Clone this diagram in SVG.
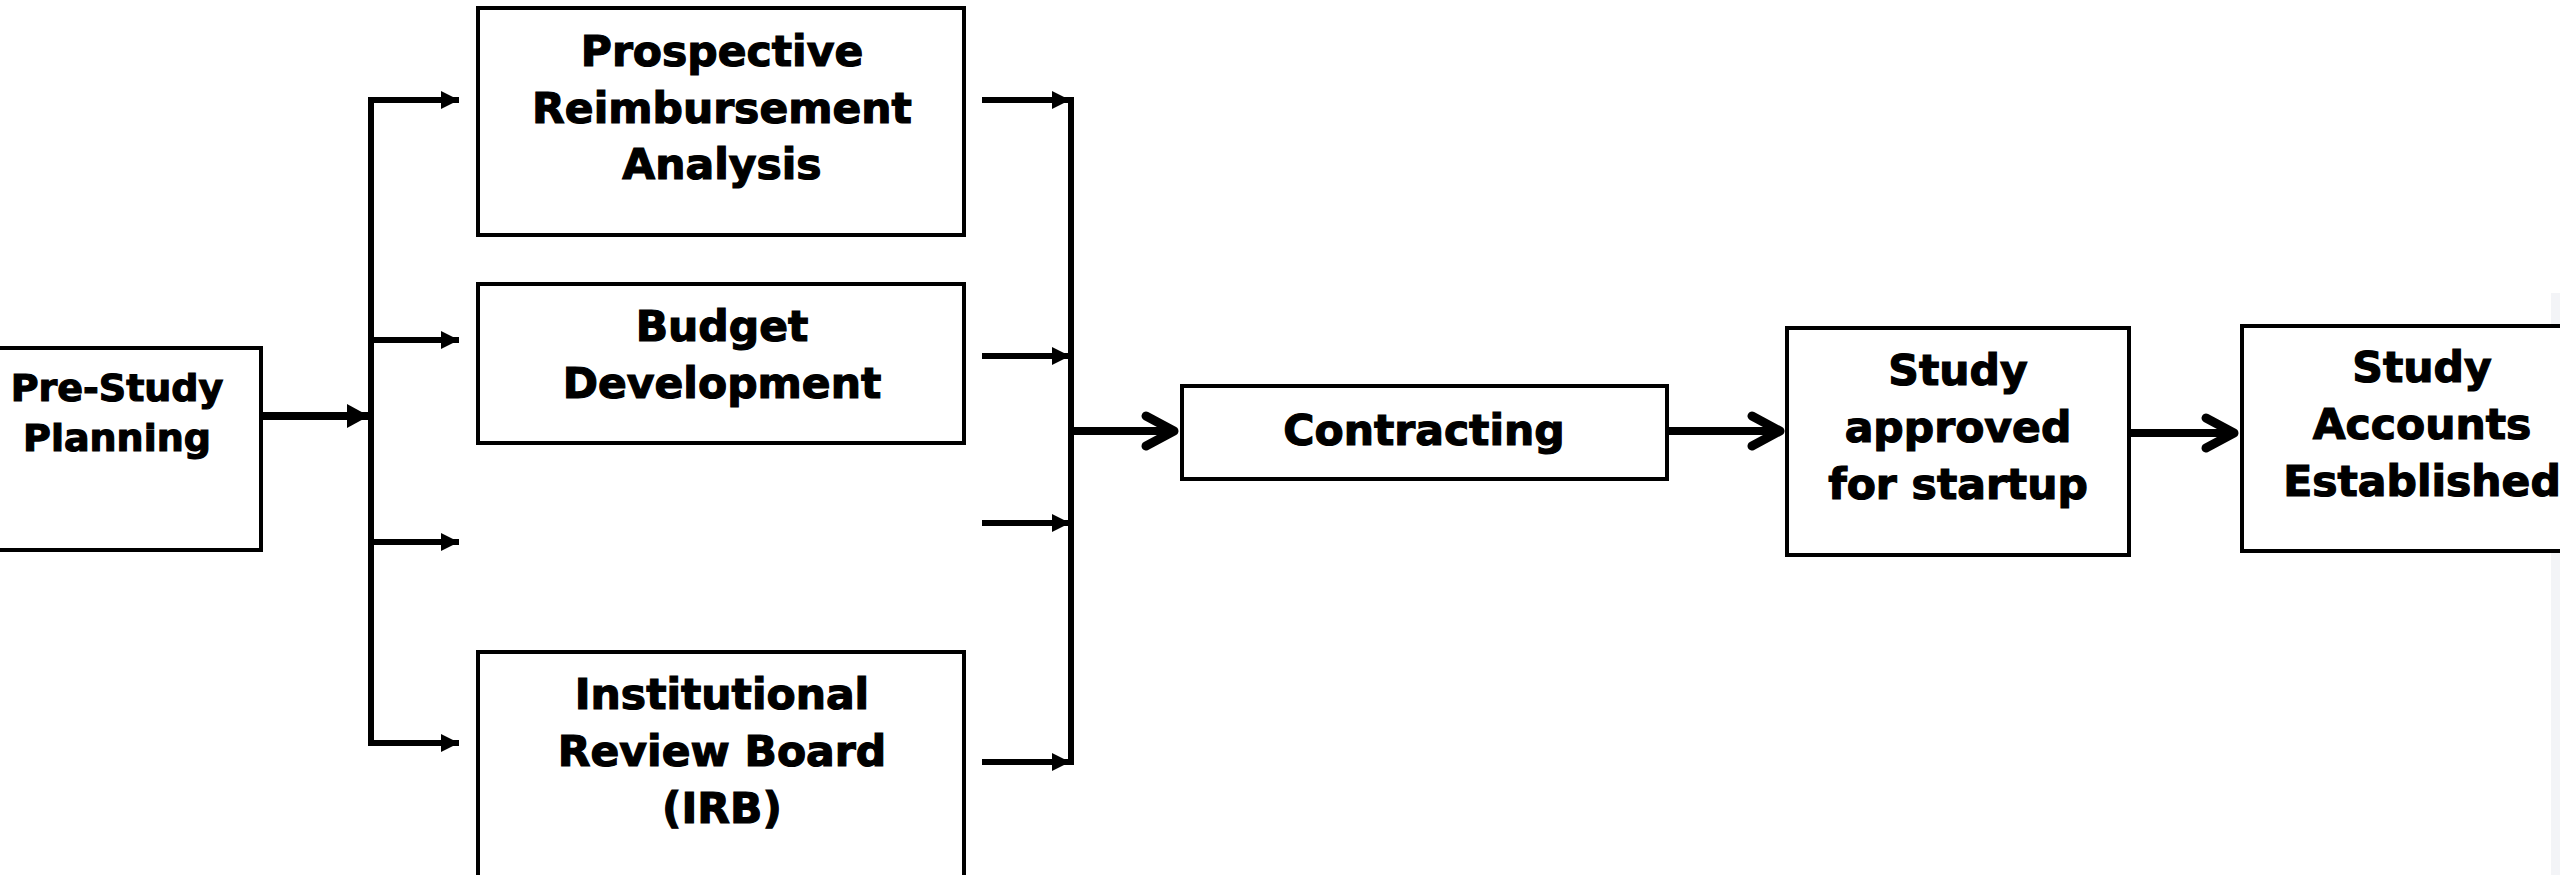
<svg xmlns="http://www.w3.org/2000/svg" width="2560" height="875" viewBox="0 0 2560 875">
  <style>
    .box { fill: #ffffff; stroke: #000000; stroke-width: 4; }
    .lbl { font-family: "DejaVu Sans", Verdana, "Liberation Sans", sans-serif; font-weight: bold; font-size: 42.5px; fill: #000000; stroke: #000000; stroke-width: 1.2; text-anchor: middle; }
    .lbl-sm { font-size: 38px; }
    .bus { stroke: #000000; stroke-width: 6; fill: none; }
    .branch { stroke: #000000; stroke-width: 6; fill: none; marker-end: url(#tri); }
    .main { stroke: #000000; stroke-width: 8; fill: none; }
  </style>
  <defs>
    <marker id="tri" markerUnits="userSpaceOnUse" markerWidth="18" markerHeight="18" viewBox="0 0 18 18" refX="18" refY="9" orient="auto">
      <path d="M0,0 L18,9 L0,18 Z" fill="#000000"/>
    </marker>
    <marker id="tri-lg" markerUnits="userSpaceOnUse" markerWidth="22" markerHeight="24" viewBox="0 0 22 24" refX="22" refY="12" orient="auto">
      <path d="M0,0 L22,12 L0,24 Z" fill="#000000"/>
    </marker>
    <marker id="chev" markerUnits="userSpaceOnUse" markerWidth="44" markerHeight="44" viewBox="-6 -6 44 44" refX="28" refY="16" orient="auto" overflow="visible">
      <path d="M0,1 L28,16 L0,31" fill="none" stroke="#000000" stroke-width="9" stroke-linecap="round" stroke-linejoin="round"/>
    </marker>
  </defs>

  <rect width="2560" height="875" fill="#ffffff"/>
  <!-- faint slide edge at the right border -->
  <rect x="2551" y="293" width="9" height="582" fill="#f3f4f7"/>

  <g id="connectors">
    <!-- fan-out from planning -->
    <line class="main" x1="263" y1="416" x2="369" y2="416" marker-end="url(#tri-lg)"/>
    <line class="bus" x1="371" y1="97" x2="371" y2="746"/>
    <line class="branch" x1="371" y1="100" x2="459" y2="100"/>
    <line class="branch" x1="371" y1="340" x2="459" y2="340"/>
    <line class="branch" x1="371" y1="542" x2="459" y2="542"/>
    <line class="branch" x1="371" y1="743" x2="459" y2="743"/>
    <!-- fan-in to contracting -->
    <line class="branch" x1="982" y1="100" x2="1070" y2="100"/>
    <line class="branch" x1="982" y1="356" x2="1070" y2="356"/>
    <line class="branch" x1="982" y1="523" x2="1070" y2="523"/>
    <line class="branch" x1="982" y1="762" x2="1070" y2="762"/>
    <line class="bus" x1="1071" y1="97" x2="1071" y2="765"/>
    <!-- sequential steps -->
    <line class="main" x1="1071" y1="431" x2="1174" y2="431" marker-end="url(#chev)"/>
    <line class="main" x1="1669" y1="431" x2="1780" y2="431" marker-end="url(#chev)"/>
    <line class="main" x1="2131" y1="433" x2="2234" y2="433" marker-end="url(#chev)"/>
  </g>

  <g id="pre-study-planning">
    <rect class="box" x="-27" y="348" width="288" height="202"/>
    <text class="lbl lbl-sm" x="117" y="401">Pre-Study</text>
    <text class="lbl lbl-sm" x="117" y="451">Planning</text>
  </g>

  <g id="prospective-reimbursement">
    <rect class="box" x="478" y="8" width="486" height="227"/>
    <text class="lbl" x="722" y="66">Prospective</text>
    <text class="lbl" x="722" y="123">Reimbursement</text>
    <text class="lbl" x="722" y="179">Analysis</text>
  </g>

  <g id="budget-development">
    <rect class="box" x="478" y="284" width="486" height="159"/>
    <text class="lbl" x="722" y="341">Budget</text>
    <text class="lbl" x="722" y="398">Development</text>
  </g>

  <g id="irb">
    <rect class="box" x="478" y="652" width="486" height="240"/>
    <text class="lbl" x="722" y="709">Institutional</text>
    <text class="lbl" x="722" y="766">Review Board</text>
    <text class="lbl" x="722" y="823">(IRB)</text>
  </g>

  <g id="contracting">
    <rect class="box" x="1182" y="386" width="485" height="93"/>
    <text class="lbl" x="1424" y="445">Contracting</text>
  </g>

  <g id="study-approved">
    <rect class="box" x="1787" y="328" width="342" height="227"/>
    <text class="lbl" x="1958" y="385">Study</text>
    <text class="lbl" x="1958" y="442">approved</text>
    <text class="lbl" x="1958" y="499">for startup</text>
  </g>

  <g id="study-accounts">
    <rect class="box" x="2242" y="326" width="360" height="225"/>
    <text class="lbl" x="2422" y="382">Study</text>
    <text class="lbl" x="2422" y="439">Accounts</text>
    <text class="lbl" x="2422" y="496">Established</text>
  </g>
</svg>
